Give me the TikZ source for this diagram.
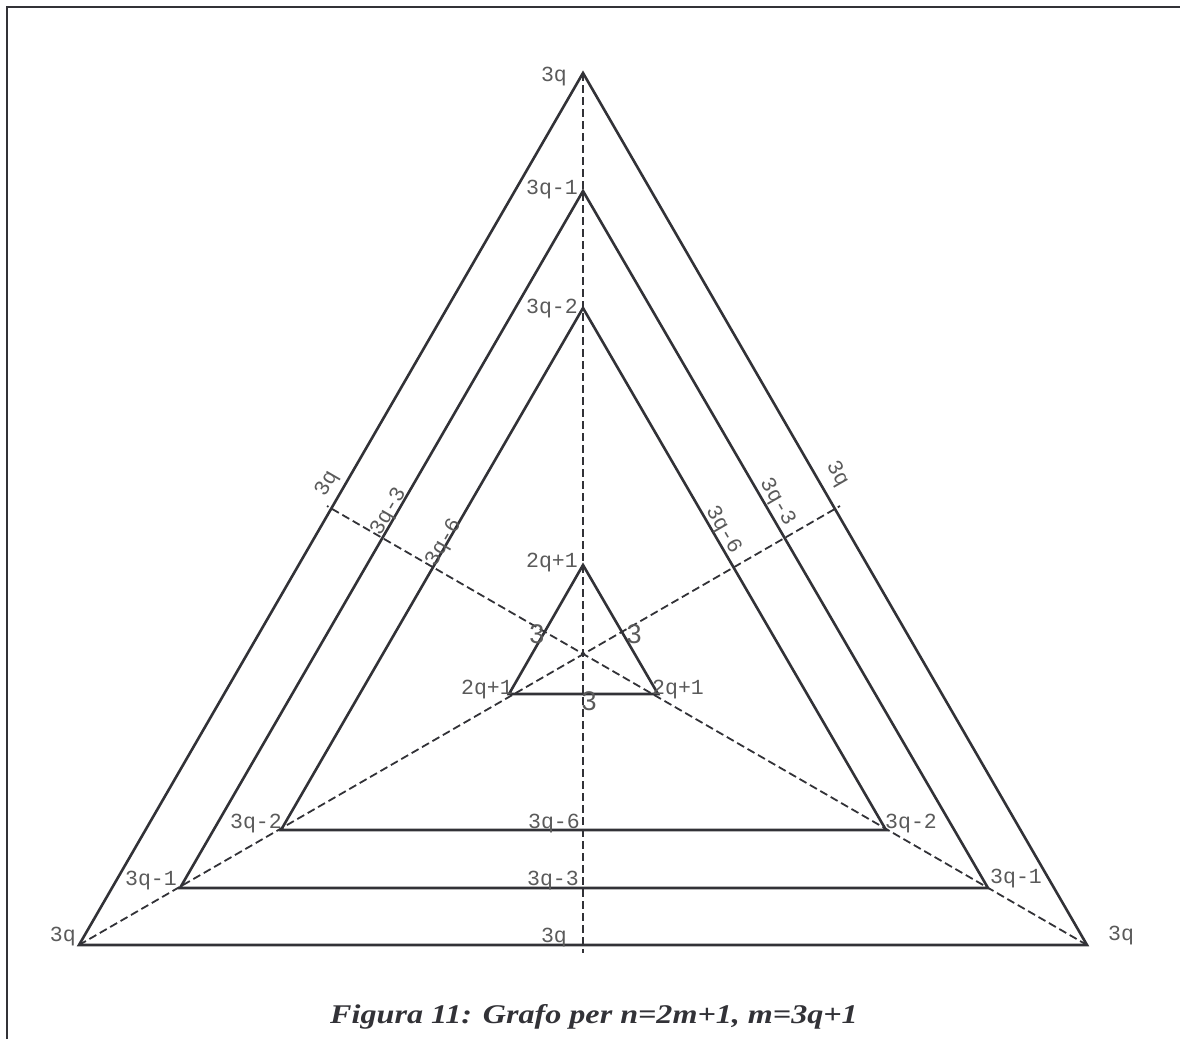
\documentclass[tikz,border=0pt]{standalone}
\usepackage{graphicx}
\usepackage{fontspec}
\setmainfont{Liberation Serif}
\newfontfamily\labfont{Liberation Mono}
\newfontfamily\digfont{Liberation Sans}
\definecolor{ink}{RGB}{50,50,55}
\definecolor{txt}{RGB}{90,90,90}
\begin{document}
\begin{tikzpicture}[x=1pt,y=-1pt,
  tri/.style={draw=ink,line width=2.6pt,line join=miter},
  med/.style={draw=ink,line width=1.8pt,dash pattern=on 8pt off 4pt},
  frm/.style={draw=ink,line width=2.7pt},
  lab/.style={inner sep=0pt,text=txt,font=\labfont\fontsize{21.5}{22}\selectfont},
  dig/.style={inner sep=0pt,text=txt,font=\digfont\fontsize{27}{28}\selectfont},
  captext/.style={inner sep=0pt,text=ink,font=\bfseries\itshape\fontsize{27}{30}\selectfont}]
\useasboundingbox (0,0) rectangle (1180,1039);
% frame
\coordinate (f1) at (7,1039);
\coordinate (f2) at (7,7);
\coordinate (f3) at (1180,7);
\draw[frm] (f1) -- (f2) -- (f3);
% vertices
\coordinate (A1) at (583,73);  \coordinate (B1) at (79,945);  \coordinate (C1) at (1087,945);
\coordinate (A2) at (583,191); \coordinate (B2) at (180,888); \coordinate (C2) at (988,888);
\coordinate (A3) at (583,308); \coordinate (B3) at (281,830); \coordinate (C3) at (886,830);
\coordinate (A4) at (583,565); \coordinate (B4) at (509,694); \coordinate (C4) at (658,694);
\coordinate (E1) at (583,953);
\coordinate (E2) at (840,506);
\coordinate (E3) at (327,506);
% medians
\draw[med] (A1) -- (E1);
\draw[med] (B1) -- (E2);
\draw[med] (C1) -- (E3);
% triangles
\draw[tri] (A1) -- (B1) -- (C1) -- cycle;
\draw[tri] (A2) -- (B2) -- (C2) -- cycle;
\draw[tri] (A3) -- (B3) -- (C3) -- cycle;
\draw[tri] (A4) -- (B4) -- (C4) -- cycle;
% apex labels
\node[lab,anchor=base east] (lA1) at (567,81) {3q};
\node[lab,anchor=base east] (lA2) at (578,194) {3q-1};
\node[lab,anchor=base east] (lA3) at (578,313) {3q-2};
\node[lab,anchor=base east] (lA4) at (578,567) {2q+1};
% base labels
\node[lab,anchor=base east] (lM3) at (580,828) {3q-6};
\node[lab,anchor=base east] (lM2) at (579,885) {3q-3};
\node[lab,anchor=base east] (lM1) at (567,942) {3q};
% left vertices
\node[lab,anchor=base east] (lB3) at (282,828) {3q-2};
\node[lab,anchor=base east] (lB2) at (177,885) {3q-1};
\node[lab,anchor=base east] (lB1) at (76,941) {3q};
% right vertices
\node[lab,anchor=base west] (lC3) at (885,828) {3q-2};
\node[lab,anchor=base west] (lC2) at (990,883) {3q-1};
\node[lab,anchor=base west] (lC1) at (1108,940) {3q};
% inner
\node[lab,anchor=base east] (lB4) at (513,694) {2q+1};
\node[lab,anchor=base west] (lC4) at (652,694) {2q+1};
\node[dig] (d1) at (537,634) {3};
\node[dig] (d2) at (634,634) {3};
\node[dig] (d3) at (589,701) {3};
% rotated labels
\node[lab,rotate=60] (r1) at (327,484) {3q};
\node[lab,rotate=60] (r2) at (389,512) {3q-3};
\node[lab,rotate=60] (r3) at (444,543) {3q-6};
\node[lab,rotate=-60] (r4) at (837,474) {3q};
\node[lab,rotate=-60] (r5) at (777,502) {3q-3};
\node[lab,rotate=-60] (r6) at (723,530) {3q-6};
% caption
\node[captext,anchor=base] (caption) at (594,1023) {\scalebox{1.19}[1]{Figura 11: Grafo per n=2m+1, m=3q+1}};
\end{tikzpicture}
\end{document}
